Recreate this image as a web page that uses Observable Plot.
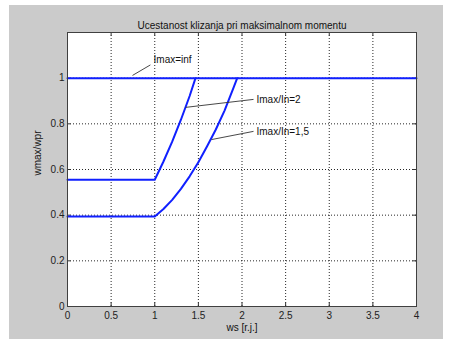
<!DOCTYPE html>
<html>
<head>
<meta charset="utf-8">
<script src="https://cdn.jsdelivr.net/npm/d3@7"></script>
<script src="https://cdn.jsdelivr.net/npm/@observablehq/plot@0.6"></script>
<style>
  html, body { margin: 0; padding: 0; background: #ffffff; }
  #chart { position: absolute; left: 9px; top: 5px; }
  #chart svg { background: #cbcbcb; display: block; }
</style>
</head>
<body>
<div id="chart"></div>
<script>
// ---- data ----
const titleText = "Ucestanost klizanja pri maksimalnom momentu";
const xLabel = "ws [r.j.]";
const yLabel = "wmax/wpr";

const xTicks = [0, 0.5, 1, 1.5, 2, 2.5, 3, 3.5, 4];
const xTickLabels = ["0", "0.5", "1", "1.5", "2", "2.5", "3", "3.5", "4"];
const yTicks = [0, 0.2, 0.4, 0.6, 0.8, 1];
const yTickLabels = ["0", "0.2", "0.4", "0.6", "0.8", "1"];

// Imax = inf
const wsInf = [0, 4];
const yInf = [1, 1];
// Imax/In = 2
const ws2 = [0, 1, 1.1, 1.2, 1.3, 1.4, 1.467];
const y2 = [0.555, 0.555, 0.635, 0.722, 0.818, 0.922, 1.0];
// Imax/In = 1,5
const ws15 = [0, 1, 1.1, 1.2, 1.3, 1.4, 1.5, 1.6, 1.7, 1.8, 1.9, 1.945];
const y15 = [0.394, 0.394, 0.427, 0.467, 0.515, 0.570, 0.632, 0.702, 0.775, 0.858, 0.955, 1.0];

// annotations (data coordinates)
const annText = ["Imax=inf", "Imax/In=2", "Imax/In=1,5"];
const annX = [0.986, 2.166, 2.166];
const annY = [1.081, 0.905, 0.764];
const leadX1 = [0.745, 1.352, 1.65];
const leadY1 = [1.012, 0.872, 0.731];
const leadX2 = [0.95, 2.132, 2.132];
const leadY2 = [1.058, 0.907, 0.767];

// ---- build ----
const toPts = (xs, ys) => xs.map((x, i) => ({x, y: ys[i]}));
const series = [toPts(wsInf, yInf), toPts(ws2, y2), toPts(ws15, y15)];
const ann = annText.map((t, i) => ({t, x: annX[i], y: annY[i], x1: leadX1[i], y1: leadY1[i], x2: leadX2[i], y2: leadY2[i]}));

const font = "'Liberation Sans', Arial, Helvetica, sans-serif";
const blue = "#1020ff";

const chart = Plot.plot({
  width: 434,
  height: 334,
  marginLeft: 58,
  marginRight: 27,
  marginTop: 27,
  marginBottom: 33,
  style: {fontFamily: font, fontSize: "10px", color: "#111", background: "#cbcbcb"},
  x: {domain: [0, 4]},
  y: {domain: [0, 1.2]},
  marks: [
    Plot.frame({fill: "white"}),
    Plot.gridX(xTicks.slice(1, -1), {stroke: "#000", strokeOpacity: 0.85, strokeDasharray: "1,2"}),
    Plot.gridY(yTicks.slice(1), {stroke: "#000", strokeOpacity: 0.85, strokeDasharray: "1,2"}),
    // inward ticks
    Plot.ruleX(xTicks, {x: d => d, y1: 0, y2: 0.016, stroke: "#333"}),
    Plot.ruleX(xTicks, {x: d => d, y1: 1.2, y2: 1.184, stroke: "#333"}),
    Plot.ruleY(yTicks, {y: d => d, x1: 0, x2: 0.04, stroke: "#333"}),
    Plot.ruleY(yTicks, {y: d => d, x1: 4, x2: 3.96, stroke: "#333"}),
    ...series.map(s => Plot.line(s, {x: "x", y: "y", stroke: blue, strokeWidth: 2})),
    Plot.link(ann, {x1: "x1", y1: "y1", x2: "x2", y2: "y2", stroke: "#333", strokeWidth: 0.9}),
    Plot.text(ann, {x: "x", y: "y", text: "t", textAnchor: "start", fill: "#111", fontSize: 10}),
    Plot.frame({stroke: "#404040", strokeWidth: 1}),
    Plot.axisX(xTicks, {tickSize: 0, tickPadding: 5, tickFormat: d => xTickLabels[xTicks.indexOf(d)], label: null, fill: "#222", fontSize: 10}),
    Plot.axisY(yTicks, {tickSize: 0, tickPadding: 3, tickFormat: d => yTickLabels[yTicks.indexOf(d)], label: null, fill: "#222", fontSize: 10}),
    Plot.text([titleText], {frameAnchor: "top", dy: -11, fontSize: 10, fill: "#111"}),
    Plot.text([xLabel], {frameAnchor: "bottom", dy: 24, fontSize: 10, fill: "#111"}),
    Plot.text([yLabel], {frameAnchor: "left", dx: -30, dy: 6, rotate: -90, fontSize: 10, fill: "#111"})
  ]
});
document.getElementById("chart").appendChild(chart);
</script>
</body>
</html>
